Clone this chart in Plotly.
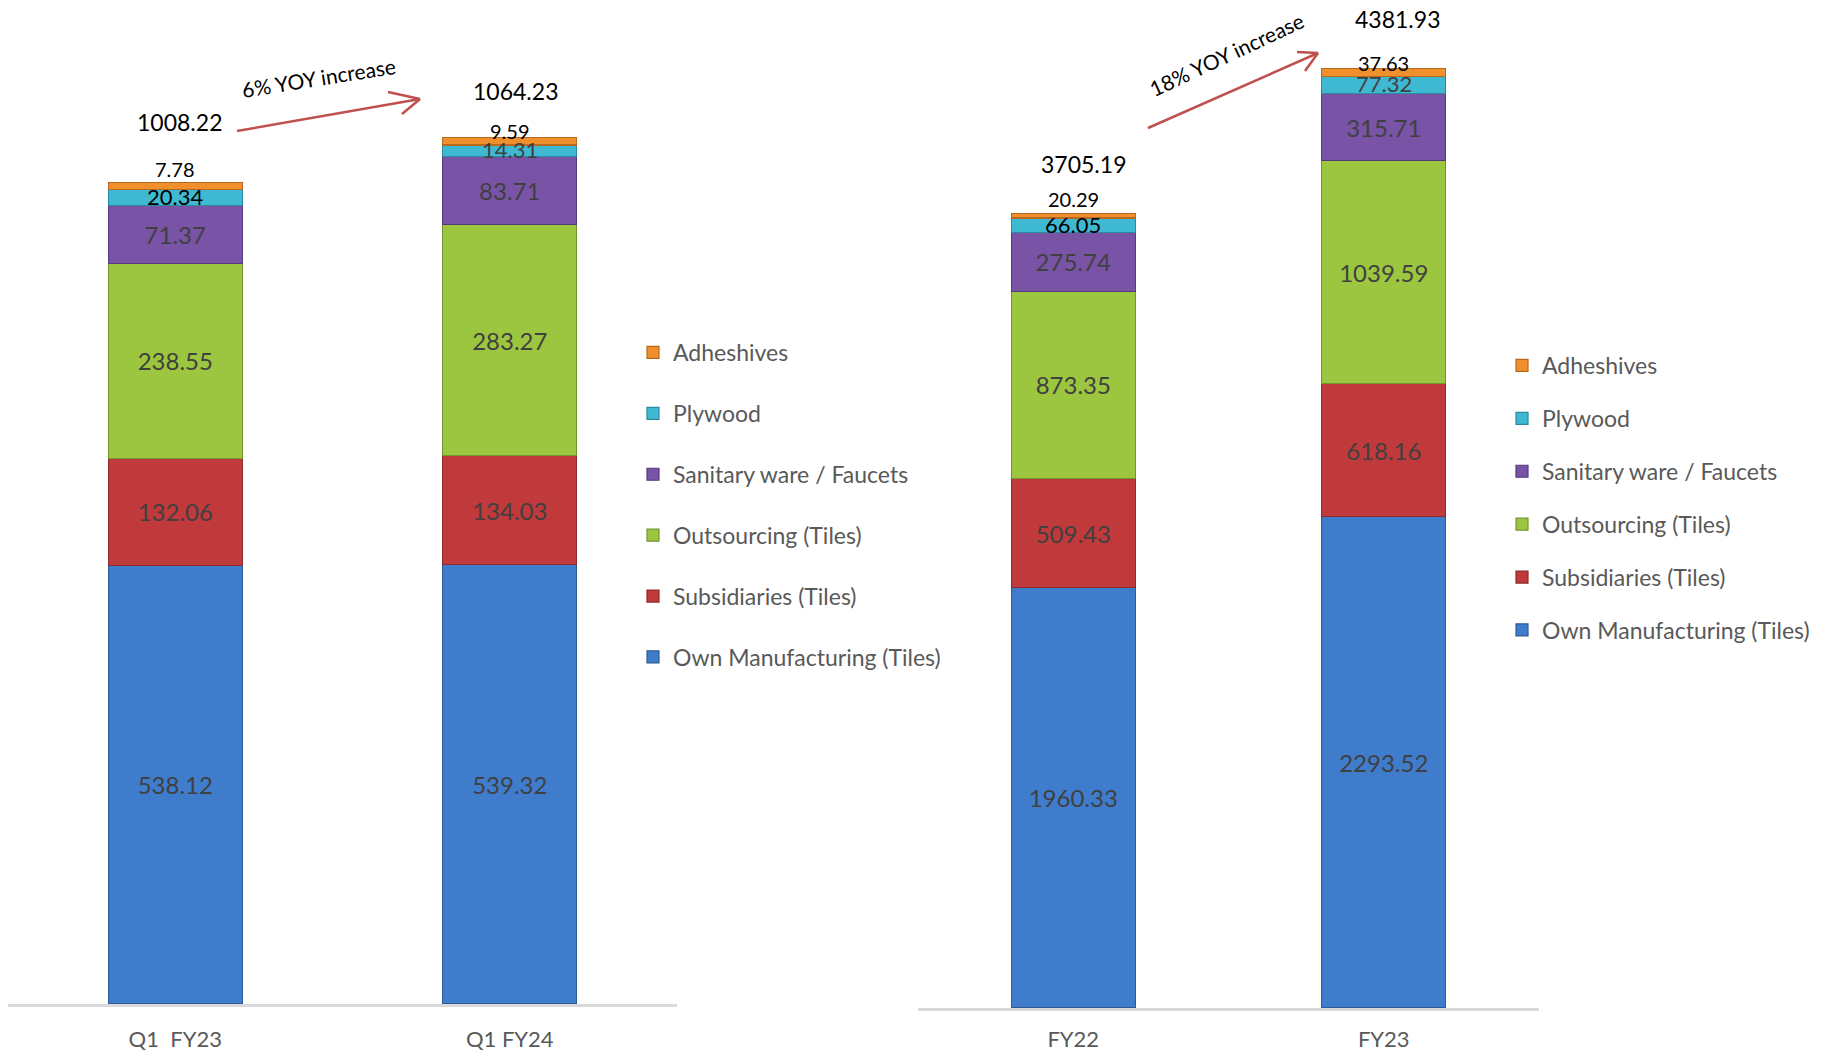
"""
Revenue mix by segment: Q1 FY23 vs Q1 FY24 and FY22 vs FY23, stacked bars.
"""

import plotly.graph_objects as go

# ---------------------------------------------------------------------------
# Data
# ---------------------------------------------------------------------------

quarters = ["Q1  FY23", "Q1 FY24"]
years = ["FY22", "FY23"]

segments = [
    "Own Manufacturing (Tiles)",
    "Subsidiaries (Tiles)",
    "Outsourcing (Tiles)",
    "Sanitary ware / Faucets",
    "Plywood",
    "Adheshives",
]

own_q = [538.12, 539.32]
subs_q = [132.06, 134.03]
outs_q = [238.55, 283.27]
sani_q = [71.37, 83.71]
ply_q = [20.34, 14.31]
adh_q = [7.78, 9.59]
totals_q = [1008.22, 1064.23]

own_y = [1960.33, 2293.52]
subs_y = [509.43, 618.16]
outs_y = [873.35, 1039.59]
sani_y = [275.74, 315.71]
ply_y = [66.05, 77.32]
adh_y = [20.29, 37.63]
totals_y = [3705.19, 4381.93]

growth_q = "6% YOY increase"
growth_y = "18% YOY increase"

# ---------------------------------------------------------------------------
# Style
# ---------------------------------------------------------------------------

# the page body keeps its 8px default margin, so the figure is drawn 8px in
OFF = 8
W, H = 1824 - OFF, 1053 - OFF
FONT = "Lato, 'Open Sans', sans-serif"
COLORS = ["#3f7dcc", "#c0393b", "#9cc63f", "#7853a6", "#3fb8d2", "#f0902c"]
EDGES = ["#2c5a94", "#8e2a2b", "#739530", "#553b7a", "#2b8aa0", "#b8691d"]
LABEL_GRAY = "#404040"
ARROW = "#c0504d"


def px(x):
    """Page x pixel -> paper fraction."""
    return (x - OFF) / W


def py(y):
    """Page y pixel -> paper fraction."""
    return 1 - (y - OFF) / H


fig = go.Figure()

panels = [
    ("x", "y", quarters, [own_q, subs_q, outs_q, sani_q, ply_q, adh_q], "legend"),
    ("x2", "y2", years, [own_y, subs_y, outs_y, sani_y, ply_y, adh_y], "legend2"),
]

for xa, ya, cats, series, leg in panels:
    for i, (name, vals) in enumerate(zip(segments, series)):
        show_text = i < 4
        fig.add_trace(go.Bar(
            x=cats, y=vals, name=name,
            xaxis=xa, yaxis=ya, legend=leg, legendgroup=f"{leg}{i}",
            legendrank=len(segments) - i,
            marker=dict(color=COLORS[i], line=dict(color=EDGES[i], width=1.2)),
            text=[f"{v:.2f}" for v in vals] if show_text else None,
            textposition="inside" if show_text else "none",
            insidetextanchor="middle",
            textangle=0,
            textfont=dict(family=FONT, size=24, color=LABEL_GRAY),
            hoverinfo="name+y",
        ))

# ---- labels for the thin top segments and totals ---------------------------
small = [
    ("x", "y", quarters, sani_q, own_q, subs_q, outs_q, ply_q, adh_q, totals_q,
     ["black", LABEL_GRAY], [14, 6], [4, 6], [61, 46]),
    ("x2", "y2", years, sani_y, own_y, subs_y, outs_y, ply_y, adh_y, totals_y,
     ["black", LABEL_GRAY], [15, 6], [10, 14], [50, 50]),
]
for xa, ya, cats, sani, own, subs, outs, ply, adh, tot, pcol, adh_shift, tx, ty in small:
    for j, c in enumerate(cats):
        base = own[j] + subs[j] + outs[j] + sani[j]
        fig.add_annotation(
            x=c, y=base + ply[j] / 2, xref=xa, yref=ya, showarrow=False,
            text=f"{ply[j]:.2f}", yshift=1,
            font=dict(family=FONT, size=22, color=pcol[j]),
        )
        fig.add_annotation(
            x=c, y=tot[j], xref=xa, yref=ya, showarrow=False,
            text=f"{adh[j]:.2f}", yshift=adh_shift[j],
            font=dict(family=FONT, size=20, color="black"),
        )
        fig.add_annotation(
            x=c, y=tot[j], xref=xa, yref=ya, showarrow=False,
            text=f"{tot[j]:.2f}", xshift=tx[j], yshift=ty[j],
            font=dict(family=FONT, size=23, color="black"),
        )

# ---- growth arrows -----------------------------------------------------------
arrows = [
    ((237, 131), (420, 99), (388, 92), (402, 114)),
    ((1148, 128), (1318, 53), (1297, 52), (1305, 71)),
]
for (x0, y0), (x1, y1), (ax1, ay1), (ax2, ay2) in arrows:
    for (sx, sy) in [(x0, y0), (ax1, ay1), (ax2, ay2)]:
        fig.add_shape(type="line", xref="paper", yref="paper",
                      x0=px(sx), y0=py(sy), x1=px(x1), y1=py(y1),
                      line=dict(color=ARROW, width=2.5))

fig.add_annotation(x=px(318), y=py(77), xref="paper", yref="paper",
                   xanchor="center", yanchor="middle",
                   text=growth_q, showarrow=False, textangle=-9,
                   font=dict(family=FONT, size=21, color="black"))
fig.add_annotation(x=px(1226), y=py(55), xref="paper", yref="paper",
                   xanchor="center", yanchor="middle",
                   text=growth_y, showarrow=False, textangle=-25,
                   font=dict(family=FONT, size=21, color="black"))

# ---------------------------------------------------------------------------
# Layout
# ---------------------------------------------------------------------------

axis_x = dict(showgrid=False, zeroline=False, showline=True, linecolor="#d9d9d9",
              linewidth=3, ticks="",
              tickfont=dict(family=FONT, size=22, color="#595959"))
axis_y = dict(visible=False, showgrid=False, zeroline=False)

legend_common = dict(
    traceorder="grouped", bgcolor="rgba(0,0,0,0)",
    font=dict(family=FONT, size=23, color="#595959"),
    xanchor="left", yanchor="top", itemclick=False, itemdoubleclick=False,
)

fig.update_layout(
    width=W, height=H,
    margin=dict(l=0, r=0, t=0, b=0),
    paper_bgcolor="white", plot_bgcolor="white",
    barmode="stack", bargap=0.6,
    font=dict(family=FONT),
    xaxis=dict(axis_x, domain=[0, px(677)], anchor="y", ticklabelstandoff=14),
    yaxis=dict(axis_y, domain=[py(1004), 1], range=[0, (1004 - OFF) / 0.8145], anchor="x"),
    xaxis2=dict(axis_x, domain=[px(918), px(1539)], anchor="y2", ticklabelstandoff=10),
    yaxis2=dict(axis_y, domain=[py(1008), 1], range=[0, (1008 - OFF) / 0.2144], anchor="x2"),
    legend=dict(legend_common, x=px(633), y=py(331), tracegroupgap=28),
    legend2=dict(legend_common, x=px(1502), y=py(344), tracegroupgap=20),
    hovermode="closest",
)

fig.write_html("out.html")
